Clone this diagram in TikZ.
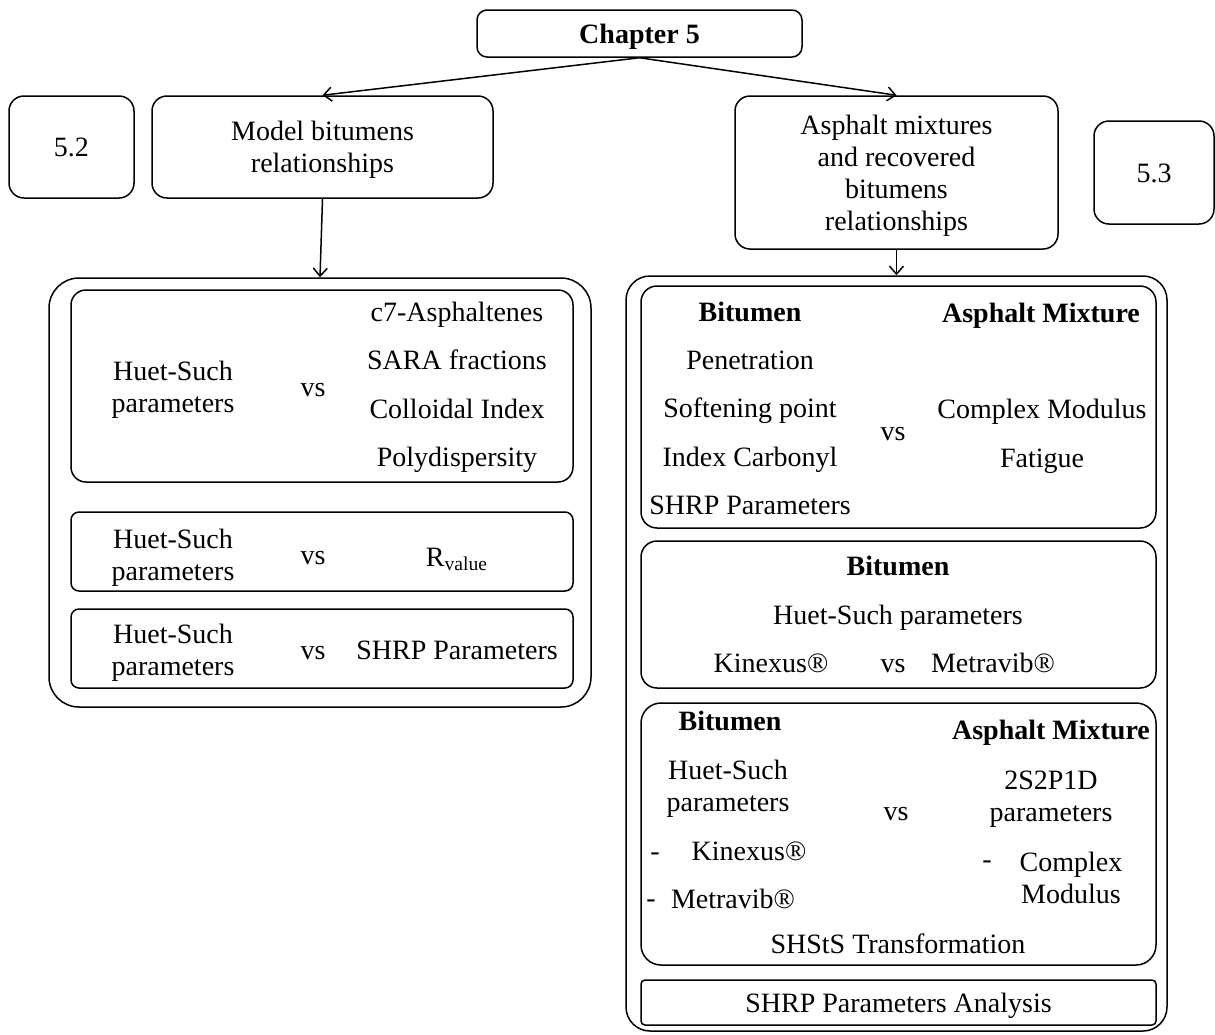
\documentclass[tikz,border=0pt]{standalone}
\usepackage{fontspec}
\setmainfont{Liberation Serif}
\usetikzlibrary{arrows.meta, fit}

\tikzset{
  box/.style={draw, rounded corners=#1, line width=0.75pt, inner sep=0pt},
  box/.default=7.5pt,
  ml/.style={align=center, inner sep=0pt, yshift=-1.5pt, font=\fontsize{14}{16}\selectfont},
  lbl/.style={inner sep=0pt, text height=11pt, text depth=1.5pt, font=\fontsize{14}{16}\selectfont},
  hd/.style={lbl, font=\fontsize{14}{16}\selectfont\bfseries},
  arr/.style={-{Straight Barb[length=4pt,width=7pt]}, line width=0.75pt},
}

\begin{document}
\begin{tikzpicture}[x=0.5pt, y=-0.5pt]
  \useasboundingbox (0,0) rectangle (1215,1034);

  \node[box=5pt, fit={(477,10) (802,57)}] (ch5) {};
  \node[box, fit={(9,96) (134,198)}] (sec52) {};
  \node[box, fit={(152,96) (493,198)}] (model) {};
  \node[box, fit={(735,96) (1058,249)}] (asph) {};
  \node[box, fit={(1094,121) (1214,224)}] (sec53) {};
  \node[hd] (ch5t) at (ch5) {Chapter 5};
  \node[lbl] (sec52t) at (sec52) {5.2};
  \node[ml] (modelt) at (model) {Model bitumens\\relationships};
  \node[ml] (aspht) at (asph) {Asphalt mixtures\\and recovered\\bitumens\\relationships};
  \node[lbl] (sec53t) at (sec53) {5.3};

  \node[box=15pt, fit={(49,278) (591,707)}] (louter) {};
  \node[box, fit={(71,290) (573,482)}] (lchem) {};
  \node[box=4pt, fit={(71,512) (573,591)}] (lrval) {};
  \node[box=4pt, fit={(71,609) (573,688)}] (lshrp) {};

  \node[box=12pt, fit={(626,276) (1167,1031)}] (router) {};
  \node[box=8pt, fit={(641,286) (1156,528)}] (rmix) {};
  \node[box=8pt, fit={(641,541) (1156,688)}] (rdev) {};
  \node[box=10pt, fit={(641,703) (1156,965)}] (rshsts) {};
  \node[box=2pt, fit={(641,980) (1156,1025)}] (ranal) {};
  \node[lbl] (ranalt) at (ranal) {SHRP Parameters Analysis};

  \draw[arr] (ch5.south) -- (model.north);
  \draw[arr] (ch5.south) -- (asph.north);
  \draw[arr] (model.south) -- (louter.north);
  \draw[arr] (asph.south) -- (router.north);

  \node[ml] (hs1) at (173,387) {Huet-Such\\parameters};
  \node[lbl] (vs1) at (313,387) {vs};
  \foreach \t [count=\i] in {c7-Asphaltenes, SARA fractions, Colloidal Index, Polydispersity}
    \node[lbl] (chem\i) at (457,{312+48.3*(\i-1)}) {\t};

  \node[ml] (hs2) at (173,555) {Huet-Such\\parameters};
  \node[lbl] (vs2) at (313,555) {vs};
  \node[lbl] (rval) at (457,557) {R\textsubscript{value}};

  \node[ml] (hs3) at (173,650) {Huet-Such\\parameters};
  \node[lbl] (vs3) at (313,650) {vs};
  \node[lbl] (shrp1) at (457,650) {SHRP Parameters};

  \node[hd] (bit1) at (750,312) {Bitumen};
  \node[hd] (am1) at (1041,313) {Asphalt Mixture};
  \foreach \t [count=\i] in {Penetration, Softening point, Index Carbonyl, SHRP Parameters}
    \node[lbl] (bprop\i) at (750,{360+48.3*(\i-1)}) {\t};
  \node[lbl] (vs4) at (893,431) {vs};
  \node[lbl] (cm1) at (1042,409) {Complex Modulus};
  \node[lbl] (fat) at (1042,458) {Fatigue};

  \node[hd] (bit2) at (898,566) {Bitumen};
  \node[lbl] (hsp) at (898,615) {Huet-Such parameters};
  \node[lbl] (kin1) at (771,663) {Kinexus®};
  \node[lbl] (vs5) at (893,663) {vs};
  \node[lbl] (met1) at (993,663) {Metravib®};

  \node[hd] (bit3) at (730,721) {Bitumen};
  \node[hd] (am2) at (1051,730) {Asphalt Mixture};
  \node[ml] (hs4) at (728,786) {Huet-Such\\parameters};
  \node[lbl] (vs6) at (896,811) {vs};
  \node[ml] (tsp) at (1051,796) {2S2P1D\\parameters};
  \node[lbl] (dash1) at (655,851) {-};
  \node[lbl] (kin2) at (749,851) {Kinexus®};
  \node[lbl] (dash2) at (651,898) {-};
  \node[lbl] (met2) at (733,899) {Metravib®};
  \node[lbl] (dash3) at (987,859) {-};
  \node[ml] (cm2) at (1071,875) {Complex\\Modulus};
  \node[lbl] (shsts) at (898,944) {SHStS Transformation};
\end{tikzpicture}
\end{document}
